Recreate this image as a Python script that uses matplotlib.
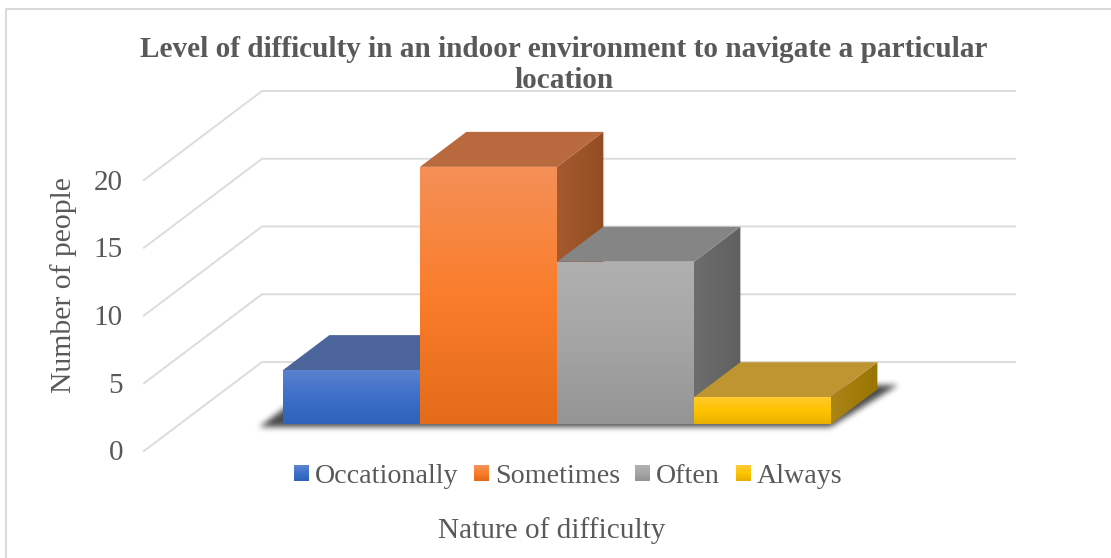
import numpy as np
import matplotlib
matplotlib.use('Agg')
import matplotlib.pyplot as plt
from matplotlib.colors import LinearSegmentedColormap
from matplotlib.legend_handler import HandlerBase
from matplotlib.patches import Patch, Polygon, Rectangle
from matplotlib.path import Path

# ======================
# DATA
# ======================
categories = ['Occationally', 'Sometimes', 'Often', 'Always']
values = [4, 19, 12, 2]
y_ticks = [0, 5, 10, 15, 20]

title = 'Level of difficulty in an indoor environment to navigate a particular\nlocation'
x_label = 'Nature of difficulty'
y_label = 'Number of people'

front_colors = [
    ['#5c82d0', '#3d6fc9', '#2f62b8'],
    ['#f59058', '#fa7d2b', '#e46b19'],
    ['#b0b0b0', '#a5a5a5', '#949494'],
    ['#ffc935', '#ffc400', '#e8b100'],
]
top_colors = ['#4b6499', '#b86a3e', '#858585', '#bf9532']
side_colors = [
    ['#3f5f9c', '#2c4a80'],
    ['#a55a2e', '#934d22'],
    ['#6d6d6d', '#606060'],
    ['#ab8518', '#997400'],
]

# ======================
# 3D PROJECTION (pixels)
# ======================
FLOOR_X = 144
FLOOR_Y = 451
PX_PER_UNIT = 13.55
DEPTH_DX = 118
DEPTH_DY = 89
WALL_RIGHT = 1015
BAR_LEFT = 247.6
BAR_WIDTH = 137
BAR_D0 = 0.30
BAR_D1 = 0.693


def project(x, depth, value):
    return (x + depth * DEPTH_DX, FLOOR_Y - value * PX_PER_UNIT - depth * DEPTH_DY)


def gradient_face(ax, pts, colors, horizontal=False, zorder=3):
    pts = np.array(pts)
    cmap = LinearSegmentedColormap.from_list('face', colors)
    grad = np.linspace(0, 1, 256).reshape(-1, 1)
    if horizontal:
        grad = grad.T
    extent = [pts[:, 0].min(), pts[:, 0].max(), pts[:, 1].max(), pts[:, 1].min()]
    im = ax.imshow(grad, cmap=cmap, extent=extent, aspect='auto', origin='upper',
                   zorder=zorder, interpolation='bilinear')
    poly = Polygon(pts, closed=True, transform=ax.transData, fc='none', ec='none')
    ax.add_patch(poly)
    im.set_clip_path(poly)


def blur(a, n):
    kernel = np.ones(n) / n
    for _ in range(2):
        a = np.apply_along_axis(lambda r: np.convolve(r, kernel, mode='same'), 0, a)
        a = np.apply_along_axis(lambda r: np.convolve(r, kernel, mode='same'), 1, a)
    return a


class GradientSwatch(HandlerBase):
    def create_artists(self, legend, orig_handle, xdescent, ydescent, width, height,
                       fontsize, trans):
        cmap = LinearSegmentedColormap.from_list('swatch', orig_handle.get_gid().split(','))
        n = 10
        side = width
        y0 = (height - side) / 2 - ydescent
        return [
            Rectangle((-xdescent, y0 + side * i / n), side, side / n + 0.3,
                      fc=cmap(1 - i / (n - 1)), ec='none', transform=trans)
            for i in range(n)
        ]


# ======================
# FIGURE
# ======================
plt.rcParams['font.family'] = ['Liberation Serif', 'DejaVu Serif']
TEXT = '#595959'
GRID = '#dcdcdc'

fig = plt.figure(figsize=(11.11, 5.58), dpi=100, facecolor='white')
ax = fig.add_axes([0, 0, 1, 1])
ax.set_xlim(0, 1111)
ax.set_ylim(558, 0)
ax.axis('off')

# chart frame
ax.plot([5.5, 5.5, 1111], [558, 9, 9], color='#d9d9d9', lw=1.4, zorder=1)

# ======================
# WALL GRID
# ======================
for v in y_ticks:
    x0, y0 = project(FLOOR_X, 0, v)
    x1, y1 = project(FLOOR_X, 1, v)
    ax.plot([x0, x1, WALL_RIGHT], [y0, y1, y1], color=GRID, lw=1.4, zorder=1,
            solid_joinstyle='miter')
    ax.text(123, y0 + 2.5, str(v), ha='right', va='center', fontsize=21, color=TEXT)

# ======================
# SHADOW
# ======================
bar_right = BAR_LEFT + BAR_WIDTH * len(values)
shadow_pts = [project(BAR_LEFT - 20, BAR_D0 - 0.03, 0), project(bar_right + 3, BAR_D0 - 0.03, 0),
              project(bar_right + 15, BAR_D1 + 0.05, 0), project(BAR_LEFT - 20, BAR_D1 + 0.05, 0)]
xs, ys = np.meshgrid(np.arange(230, 930), np.arange(350, 450))
inside = Path(shadow_pts).contains_points(np.c_[xs.ravel() + 0.5, ys.ravel() + 0.5])
alpha = blur(inside.reshape(xs.shape).astype(float), 7)
shadow = np.zeros(xs.shape + (4,))
shadow[..., :3] = 0.22
shadow[..., 3] = alpha * 0.9
ax.imshow(shadow, extent=[230, 930, 450, 350], aspect='auto', zorder=2, interpolation='bilinear')

# ======================
# BARS
# ======================
for i, v in enumerate(values):
    left = BAR_LEFT + i * BAR_WIDTH
    right = left + BAR_WIDTH
    z = 3 + i * 0.1
    fl_b = project(left, BAR_D0, 0)
    fr_b = project(right, BAR_D0, 0)
    fr_t = project(right, BAR_D0, v)
    fl_t = project(left, BAR_D0, v)
    bl_t = project(left, BAR_D1, v)
    br_t = project(right, BAR_D1, v)
    br_b = project(right, BAR_D1, 0)
    gradient_face(ax, [fr_b, br_b, br_t, fr_t], side_colors[i], horizontal=True, zorder=z)
    ax.add_patch(Polygon([fl_t, fr_t, br_t, bl_t], closed=True, fc=top_colors[i], ec='none', zorder=z))
    gradient_face(ax, [fl_b, fr_b, fr_t, fl_t], front_colors[i], zorder=z + 0.01)

ax.set_xlim(0, 1111)
ax.set_ylim(558, 0)

# ======================
# TEXT
# ======================
ax.text(564, 65, title, ha='center', va='center', fontsize=21.1, fontweight='bold',
        color=TEXT, linespacing=1.18, zorder=6)
ax.text(552, 531, x_label, ha='center', va='center', fontsize=21.1, color=TEXT)
ax.text(64, 285, y_label, ha='center', va='center', rotation=90, fontsize=21.3, color=TEXT)

# ======================
# LEGEND
# ======================
handles = [Patch(gid=','.join(c)) for c in front_colors]
ax.legend(handles, categories, handler_map={Patch: GradientSwatch()},
          loc='center', bbox_to_anchor=(568 / 1111, 1 - 476 / 558), ncol=4, frameon=False,
          fontsize=20.2, labelcolor=TEXT, handlelength=0.54, handleheight=0.7,
          handletextpad=0.21, columnspacing=0.55, borderpad=0, borderaxespad=0)

plt.savefig('out.png', dpi=100)
